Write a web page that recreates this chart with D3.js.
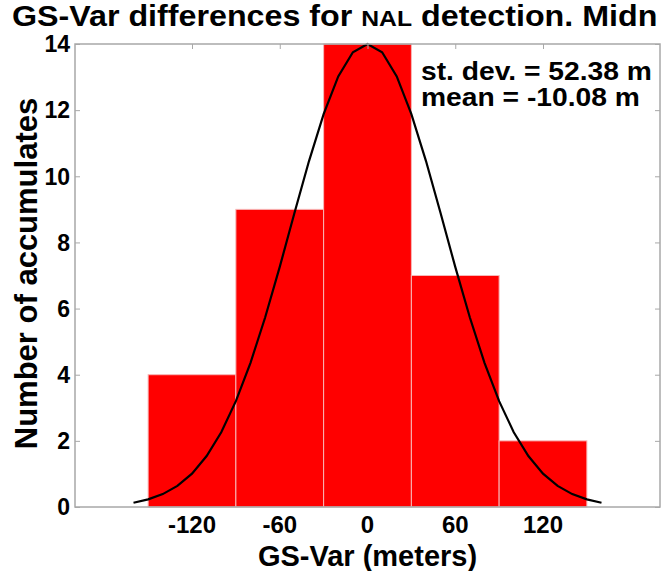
<!DOCTYPE html>
<html>
<head>
<meta charset="utf-8">
<script src="https://cdn.jsdelivr.net/npm/d3@7"></script>
<style>
  body { margin: 0; background: #fff; }
  svg { display: block; font-family: "Liberation Sans", Arial, sans-serif; font-weight: bold; }
</style>
</head>
<body>
<script>
// Histogram bins (meters) and counts
const binCenters = [-120, -60, 0, 60, 120];
const binWidth = 60;
const counts = [4, 9, 14, 7, 2];

// Fitted normal curve
const curveX = [-160, -150, -140, -130, -120, -110, -100, -90, -80, -70, -60, -50, -40, -30, -20, -10,
                0, 10, 20, 30, 40, 50, 60, 70, 80, 90, 100, 110, 120, 130, 140, 150, 160];
const curveY = [0.13, 0.23, 0.39, 0.64, 1.01, 1.54, 2.26, 3.2, 4.36, 5.73, 7.26, 8.88, 10.46, 11.88, 13.02, 13.75,
                14, 13.75, 13.02, 11.88, 10.46, 8.88, 7.26, 5.73, 4.36, 3.2, 2.26, 1.54, 1.01, 0.64, 0.39, 0.23, 0.13];

const xTicks = [-120, -60, 0, 60, 120];
const yTicks = [0, 2, 4, 6, 8, 10, 12, 14];
const statLines = ["st. dev. = 52.38 m", "mean = -10.08 m"];

const width = 662;
const height = 571;
const marginLeft = 75;
const marginRight = 2;
const marginTop = 44;
const marginBottom = 64;

const svg = d3.select("body").append("svg")
    .attr("width", width)
    .attr("height", height)
    .attr("viewBox", [0, 0, width, height]);

const x = d3.scaleLinear()
    .domain([-200, 200])
    .range([marginLeft, width - marginRight]);

const y = d3.scaleLinear()
    .domain([0, 14])
    .range([height - marginBottom, marginTop]);

// Bars
svg.append("g")
  .selectAll("rect")
  .data(counts)
  .join("rect")
    .attr("x", (d, i) => x(binCenters[i] - binWidth / 2))
    .attr("y", d => y(d))
    .attr("width", (d, i) => x(binCenters[i] + binWidth / 2) - x(binCenters[i] - binWidth / 2))
    .attr("height", d => y(0) - y(d))
    .attr("fill", "#ff0000")
    .attr("stroke", "#f7b8b8")
    .attr("stroke-width", 1);

// Normal curve
const line = d3.line()
    .x((d, i) => x(curveX[i]))
    .y(d => y(d));

svg.append("path")
    .datum(curveY)
    .attr("fill", "none")
    .attr("stroke", "#000")
    .attr("stroke-width", 2.2)
    .attr("d", line);

// Frame with inward ticks on all sides
const frame = "#a8a8a8";
svg.append("rect")
    .attr("x", x(-200))
    .attr("y", y(14))
    .attr("width", x(200) - x(-200))
    .attr("height", y(0) - y(14))
    .attr("fill", "none")
    .attr("stroke", frame)
    .attr("stroke-width", 1.5);

svg.append("g")
    .attr("transform", `translate(${marginLeft},0)`)
    .call(d3.axisRight(y).tickValues(yTicks).tickSize(5).tickFormat(""))
    .call(g => g.select(".domain").remove())
    .call(g => g.selectAll(".tick line").attr("stroke", frame));

svg.append("g")
    .attr("transform", `translate(${width - marginRight},0)`)
    .call(d3.axisLeft(y).tickValues(yTicks).tickSize(5).tickFormat(""))
    .call(g => g.select(".domain").remove())
    .call(g => g.selectAll(".tick line").attr("stroke", frame));

svg.append("g")
    .attr("transform", `translate(0,${marginTop})`)
    .call(d3.axisBottom(x).tickValues(xTicks).tickSize(5).tickFormat(""))
    .call(g => g.select(".domain").remove())
    .call(g => g.selectAll(".tick line").attr("stroke", frame));

// Tick labels
svg.append("g")
  .selectAll("text")
  .data(yTicks)
  .join("text")
    .attr("x", marginLeft - 5)
    .attr("y", d => y(d))
    .attr("dy", "0.36em")
    .attr("text-anchor", "end")
    .attr("font-size", 23)
    .text(d => d);

svg.append("g")
  .selectAll("text")
  .data(xTicks)
  .join("text")
    .attr("x", d => x(d))
    .attr("y", height - marginBottom + 26)
    .attr("text-anchor", "middle")
    .attr("font-size", 24)
    .text(d => d);

// Axis titles
svg.append("text")
    .attr("x", x(0))
    .attr("y", 566)
    .attr("text-anchor", "middle")
    .attr("font-size", 29)
    .text("GS-Var (meters)");

svg.append("text")
    .attr("transform", `translate(37,${(95 + 452) / 2}) rotate(-90)`)
    .attr("text-anchor", "middle")
    .attr("font-size", 31)
    .text("Number of accumulates");

// Title
const title = svg.append("text")
    .attr("transform", "translate(12,25.5) scale(1.075,1)")
    .attr("font-size", 30);
title.append("tspan").text("GS-Var differences for ");
title.append("tspan").attr("font-size", 23).text("NAL");
title.append("tspan").text(" detection. Midn");

// Statistics
svg.append("g")
    .attr("transform", "translate(421,0) scale(1.13,1)")
  .selectAll("text")
  .data(statLines)
  .join("text")
    .attr("x", 0)
    .attr("y", (d, i) => 80 + i * 26)
    .attr("font-size", 25)
    .text(d => d);
</script>
</body>
</html>
